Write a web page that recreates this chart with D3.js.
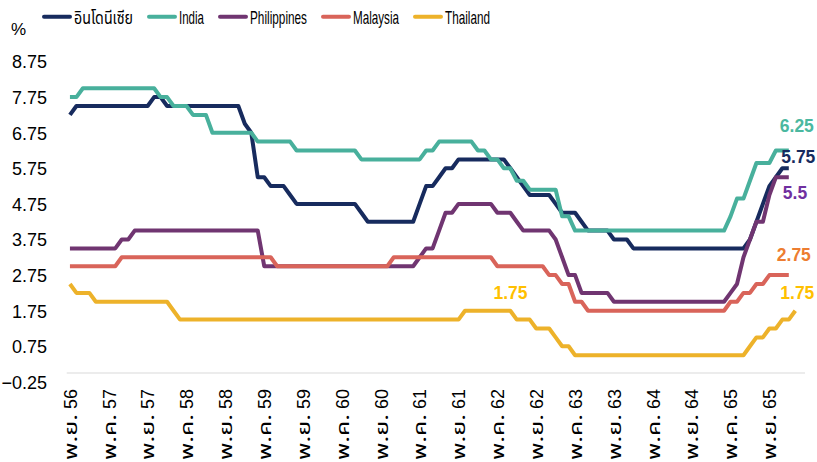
<!DOCTYPE html>
<html><head><meta charset="utf-8">
<script src="https://cdn.jsdelivr.net/npm/d3@7"></script>
<style>body{margin:0;background:#fff;} svg{display:block}</style>
</head><body>
<svg id="c" width="817" height="462"></svg>
<script>
// ---------- DATA ----------
const seriesNames = ["อินโดนีเซีย","India","Philippines","Malaysia","Thailand"];
const seriesColors = ["#172B5E","#48B09C","#703571","#D9645A","#EDB22A"];

// monthly policy rates, first point = Nov 2013 (พ.ย. 56)
const indonesia = [7.25,
 7.5,7.5,7.5,7.5,7.5,7.5,7.5,7.5,7.5,7.5,7.5,7.5,
 7.75,7.75,
 7.5,7.5,7.5,7.5,7.5,7.5,7.5,7.5,7.5,7.5,7.5,7.5,
 7.0,6.75,5.5,5.5,5.25,5.25,5.25,5.0,
 4.75,4.75,4.75,4.75,4.75,4.75,4.75,4.75,4.75,4.75,
 4.5,
 4.25,4.25,4.25,4.25,4.25,4.25,4.25,4.25,
 4.75,5.25,5.25,5.5,5.75,5.75,
 6.0,6.0,6.0,6.0,6.0,6.0,6.0,6.0,
 5.75,5.5,5.25,5.0,5.0,5.0,5.0,4.75,4.5,4.5,4.5,4.25,4.0,4.0,4.0,4.0,3.75,3.75,3.75,
 3.5,3.5,3.5,3.5,3.5,3.5,3.5,3.5,3.5,3.5,
 3.5,3.5,3.5,3.5,3.5,3.5,3.5,3.5,
 3.75,4.25,4.75,5.25,5.5,5.75,5.75];

const india = [7.75,7.75,
 8,8,8,8,8,8,8,8,8,8,8,8,
 7.75,7.75,7.5,7.5,7.5,7.25,7.25,7.25,
 6.75,6.75,6.75,6.75,6.75,6.75,6.75,
 6.5,6.5,6.5,6.5,6.5,6.5,
 6.25,6.25,6.25,6.25,6.25,6.25,6.25,6.25,6.25,6.25,
 6.0,6.0,6.0,6.0,6.0,6.0,6.0,6.0,6.0,6.0,
 6.25,6.25,
 6.5,6.5,6.5,6.5,6.5,6.5,
 6.25,6.25,6.0,6.0,5.75,5.75,5.4,5.4,5.15,5.15,5.15,5.15,5.15,4.4,4.4,
 4.0,4.0,4.0,4.0,4.0,4.0,4.0,4.0,4.0,4.0,
 4.0,4.0,4.0,4.0,4.0,4.0,4.0,4.0,4.0,4.0,
 4.0,4.0,4.0,4.0,
 4.4,4.9,4.9,5.4,5.9,5.9,5.9,6.25,6.25,6.25];

const philippines = [3.5,3.5,3.5,3.5,3.5,3.5,3.5,3.5,
 3.75,3.75,
 4.0,4.0,4.0,4.0,4.0,4.0,4.0,4.0,4.0,4.0,
 4.0,4.0,4.0,4.0,4.0,4.0,4.0,4.0,4.0,4.0,
 3.0,3.0,3.0,3.0,3.0,3.0,3.0,3.0,3.0,3.0,
 3.0,3.0,3.0,3.0,3.0,3.0,3.0,3.0,3.0,3.0,
 3.0,3.0,3.0,3.0,
 3.25,3.5,3.5,4.0,4.5,4.5,
 4.75,4.75,4.75,4.75,4.75,4.75,
 4.5,4.5,4.5,4.25,
 4.0,4.0,4.0,4.0,4.0,
 3.75,3.25,2.75,2.75,
 2.25,2.25,2.25,2.25,2.25,
 2.0,2.0,2.0,2.0,2.0,2.0,2.0,2.0,2.0,2.0,
 2.0,2.0,2.0,2.0,2.0,2.0,2.0,2.0,
 2.25,2.5,3.25,3.75,4.25,4.25,5.0,5.5,5.5,5.5];

const malaysia = [3.0,3.0,3.0,3.0,3.0,3.0,3.0,3.0,
 3.25,3.25,3.25,3.25,3.25,3.25,3.25,3.25,3.25,3.25,
 3.25,3.25,3.25,3.25,3.25,3.25,3.25,3.25,3.25,3.25,
 3.25,3.25,3.25,3.25,
 3.0,3.0,3.0,3.0,3.0,3.0,3.0,3.0,3.0,3.0,
 3.0,3.0,3.0,3.0,3.0,3.0,3.0,3.0,
 3.25,3.25,3.25,3.25,3.25,3.25,3.25,3.25,3.25,3.25,
 3.25,3.25,3.25,3.25,3.25,3.25,
 3.0,3.0,3.0,3.0,3.0,3.0,3.0,3.0,
 2.75,2.75,2.5,2.5,2.0,2.0,
 1.75,1.75,1.75,1.75,1.75,1.75,1.75,1.75,1.75,1.75,
 1.75,1.75,1.75,1.75,1.75,1.75,1.75,1.75,1.75,1.75,
 1.75,1.75,
 2.0,2.0,2.25,2.25,2.5,2.5,2.75,2.75,2.75,2.75];

const thailand = [2.5,2.25,2.25,2.25,
 2.0,2.0,2.0,2.0,2.0,2.0,2.0,2.0,2.0,2.0,2.0,2.0,
 1.75,
 1.5,1.5,1.5,1.5,1.5,1.5,1.5,1.5,1.5,1.5,
 1.5,1.5,1.5,1.5,1.5,1.5,1.5,1.5,1.5,1.5,
 1.5,1.5,1.5,1.5,1.5,1.5,1.5,1.5,1.5,1.5,
 1.5,1.5,1.5,1.5,1.5,1.5,1.5,1.5,1.5,1.5,
 1.5,1.5,1.5,1.5,
 1.75,1.75,1.75,1.75,1.75,1.75,1.75,1.75,
 1.5,1.5,1.5,1.25,1.25,1.25,1.0,0.75,0.75,
 0.5,0.5,0.5,0.5,0.5,0.5,0.5,0.5,0.5,0.5,
 0.5,0.5,0.5,0.5,0.5,0.5,0.5,0.5,0.5,0.5,
 0.5,0.5,0.5,0.5,0.5,0.5,0.5,
 0.75,1.0,1.0,1.25,1.25,1.5,1.5,1.75];

const allSeries = [indonesia, india, philippines, malaysia, thailand];

// x-axis tick labels (every 6 months)
const tickLabels = ["พ.ย. 56","พ.ค. 57","พ.ย. 57","พ.ค. 58","พ.ย. 58","พ.ค. 59","พ.ย. 59","พ.ค. 60","พ.ย. 60","พ.ค. 61",
 "พ.ย. 61","พ.ค. 62","พ.ย. 62","พ.ค. 63","พ.ย. 63","พ.ค. 64","พ.ย. 64","พ.ค. 65","พ.ย. 65"];
const tickIndex = tickLabels.map((d,i)=>i*6);
const yTicks = [-0.25,0.75,1.75,2.75,3.75,4.75,5.75,6.75,7.75,8.75];

// value labels: [series, point index, text, colour]
const valueLabels = [
 [1,111,"6.25","#4BB8A0"],
 [0,111,"5.75","#172B5E"],
 [2,111,"5.5","#7030A0"],
 [3,111,"2.75","#ED7D31"],
 [4,112,"1.75","#FFC000"],
 [4,64,"1.75","#FFC000"]
];

// ---------- CHART ----------
const svg = d3.select("#c");
const numFont = "'Liberation Sans', Arial, sans-serif";
const thaiFont = "'Leelawadee UI','Tahoma','Noto Sans Thai','Noto Sans Thai UI','Loma','Garuda','Sarabun','Noto Sans','DejaVu Sans',sans-serif";
const legFont = "'Liberation Sans', Arial, 'Noto Sans Thai','Loma','Garuda','Noto Sans',sans-serif";

const x = d3.scaleLinear().domain([-0.5, 113.5]).range([66.7, 805]);
const y = d3.scaleLinear().domain([-0.25, 8.75]).range([381.9, 61.5]);

// horizontal axis line at 0
svg.append("line")
  .attr("x1", x(-0.5)).attr("x2", x(113.5))
  .attr("y1", y(0)).attr("y2", y(0))
  .attr("stroke", "#D9D9D9").attr("stroke-width", 1.2);

// y axis
const gy = svg.append("g").attr("transform","translate(50,0)")
  .call(d3.axisLeft(y).tickValues(yTicks).tickSize(0).tickPadding(3).tickFormat(d3.format(".2f")));
gy.select(".domain").remove();
gy.selectAll("text").attr("font-family", numFont).attr("font-size", 18).attr("fill","#000").attr("dy","0.35em");

// x axis
const gx = svg.append("g").attr("transform","translate(0,389)")
  .call(d3.axisBottom(x).tickValues(tickIndex).tickSize(0).tickFormat((d,i)=>tickLabels[i]));
gx.select(".domain").remove();
gx.selectAll("text").each(function(d,i){
  const parts = tickLabels[i].split(" ");
  const t = d3.select(this).text(null)
    .attr("x",0).attr("y",0).attr("dy","0.35em")
    .attr("transform","rotate(-90)")
    .style("text-anchor","end")
    .attr("font-family", thaiFont).attr("font-size", 18).attr("fill","#000");
  t.append("tspan").attr("textLength", 46).attr("lengthAdjust","spacingAndGlyphs").text(parts[0]);
  t.append("tspan").attr("font-family", numFont).text("\u00A0" + parts[1]);
});

// "%" unit label
svg.append("text").attr("x", 11).attr("y", 35).text("%")
  .attr("font-family", numFont).attr("font-size", 17).attr("fill","#000");

// lines
const line = d3.line().x((d,i)=>x(i)).y(d=>y(d));
allSeries.forEach((s,k)=>{
  svg.append("path").datum(s).attr("d", line)
    .attr("fill","none").attr("stroke", seriesColors[k])
    .attr("stroke-width", 4).attr("stroke-linejoin","round").attr("stroke-linecap","butt");
});

// value labels
const labelOffsets = [[-9,-25],[-7.5,-11],[-6,16],[-12,-20],[-15,-18],[9,-18]];
valueLabels.forEach((v,j)=>{
  const [s,i,t,c] = v;
  svg.append("text")
    .attr("x", x(i) + labelOffsets[j][0])
    .attr("y", y(allSeries[s][i]) + labelOffsets[j][1])
    .attr("dy","0.35em")
    .attr("font-family", numFont).attr("font-weight","bold").attr("font-size", 17.5)
    .attr("fill", c).text(t);
});

// legend (condensed text widths as in the reference)
const legendWidths = [59, 25, 57, 46, 45];
let cx = 42;
seriesNames.forEach((n,k)=>{
  svg.append("line").attr("x1", cx+2).attr("x2", cx+28).attr("y1", 16.7).attr("y2", 16.7)
    .attr("stroke", seriesColors[k]).attr("stroke-width", 4).attr("stroke-linecap","round");
  svg.append("text").attr("x", cx+32).attr("y", 17.5).attr("dy","0.35em")
    .attr("font-family", legFont).attr("font-size", 18.5).attr("fill","#000")
    .attr("textLength", legendWidths[k]).attr("lengthAdjust","spacingAndGlyphs").text(n);
  cx = cx + 32 + legendWidths[k] + 14;
});
</script>
</body></html>
